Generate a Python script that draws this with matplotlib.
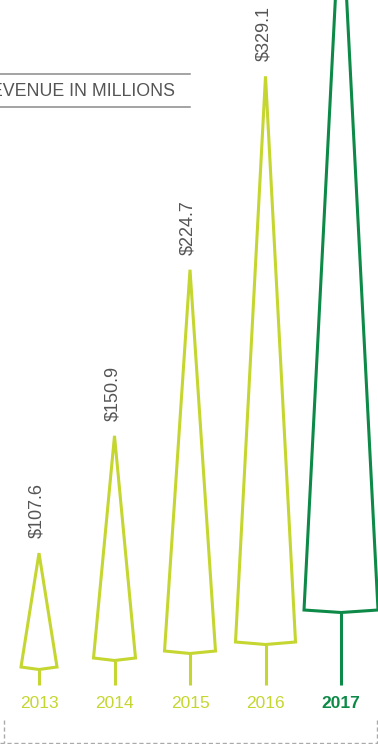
import numpy as np
import matplotlib
matplotlib.use("Agg")
import matplotlib.pyplot as plt
from matplotlib.patches import Polygon
from matplotlib.transforms import blended_transform_factory
from matplotlib.lines import Line2D

# ---- data ----
years = ["2013", "2014", "2015", "2016", "2017"]
revenue = [107.6, 150.9, 224.7, 329.1, 449.0]
value_labels = ["$107.6", "$150.9", "$224.7", "$329.1", "$449.0"]
title = "REVENUE IN MILLIONS"

# ---- style ----
W, H = 378, 744
LIME = "#c5d630"
DARK = "#0d8a47"
GRAY_TXT = "#555555"
colors = [LIME, LIME, LIME, LIME, DARK]
base_width = [0.477, 0.556, 0.675, 0.795, 0.98]      # in category units
base_px = [667, 658, 651, 642, 610]                  # base level (pixels from top)
notch_px = 2.5
trunk_px = 685
year_px = 703
LW = 2.2

fig = plt.figure(figsize=(W / 100, H / 100), dpi=100)
ax = fig.add_axes([0, 0, 1, 1])
ax.set_axis_off()

fwd = lambda v: np.sqrt(np.clip(v, 0, None))
inv = lambda s: np.square(s)
ax.set_yscale("function", functions=(fwd, inv))
ax.set_xlim(-0.5166, 4.490)
ax.set_ylim(52.75, 375.76)

bt = blended_transform_factory(ax.transData, ax.transAxes)
fy = lambda py: 1 - py / H

for i, (v, c, w, bp) in enumerate(zip(revenue, colors, base_width, base_px)):
    apex_frac = ax.transAxes.inverted().transform(ax.transData.transform((i, v)))[1]
    pts = [(i, apex_frac), (i + w / 2, fy(bp)), (i, fy(bp + notch_px)),
           (i - w / 2, fy(bp))]
    poly = Polygon(pts, closed=True, facecolor="white", edgecolor=c, lw=LW,
                   joinstyle="miter", transform=bt, clip_on=False)
    ax.add_patch(poly)
    ax.add_line(Line2D([i, i], [fy(bp + notch_px), fy(trunk_px)], color=c, lw=LW,
                       transform=bt, solid_capstyle="butt"))
    ax.annotate(value_labels[i], xy=(i, v), xytext=(-2, 15), textcoords="offset pixels",
                rotation=90, ha="center", va="bottom", fontsize=13,
                family=["Liberation Sans", "DejaVu Sans"], color=GRAY_TXT)
    bold = i == len(years) - 1
    ax.text(i, fy(year_px), years[i], ha="center", va="center", fontsize=12.5,
            family=["Liberation Sans Narrow", "Liberation Sans"],
            fontweight="bold" if bold else "normal",
            color=DARK if bold else LIME, transform=bt)

# header
ax.add_line(Line2D([0, 190 / W], [fy(74), fy(74)], color="#8a8a8a", lw=1.1,
                   transform=ax.transAxes))
ax.add_line(Line2D([0, 190 / W], [fy(107), fy(107)], color="#8a8a8a", lw=1.1,
                   transform=ax.transAxes))
ax.text(175 / W, fy(91), title, ha="right", va="center", fontsize=12.8,
        family=["Liberation Sans", "DejaVu Sans"], color=GRAY_TXT,
        transform=ax.transAxes)

# dashed frame at bottom
dash = dict(color="#aaaaaa", lw=1.0, ls=(0, (3, 2)), transform=ax.transAxes)
ax.add_line(Line2D([0, 1], [fy(742.5), fy(742.5)], **dash))
ax.add_line(Line2D([4 / W, 4 / W], [fy(720), fy(742.5)], **dash))
ax.add_line(Line2D([376.5 / W, 376.5 / W], [fy(720), fy(742.5)], **dash))

fig.savefig("out.png", dpi=100)
